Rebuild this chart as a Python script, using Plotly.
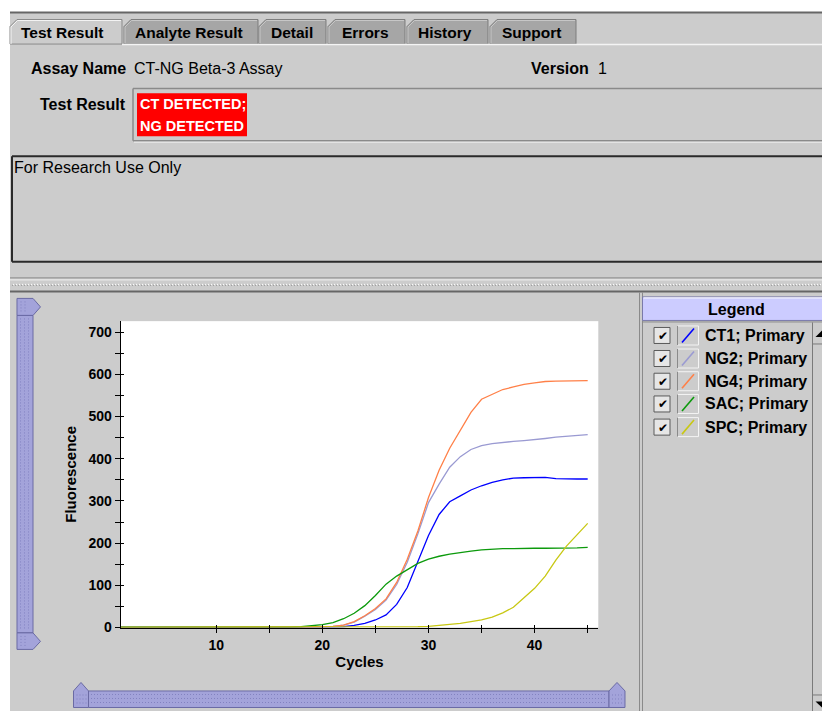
import plotly.graph_objects as go

# ---------------- data ----------------
cycles = list(range(1, 46))

series_names = ["CT1; Primary", "NG2; Primary", "NG4; Primary", "SAC; Primary", "SPC; Primary"]
series_colors = ["#0000ff", "#9a9ad2", "#ff8048", "#0c9a0c", "#c8c814"]

ct1 = [1, 1, 0, 0, 1, 0, 0, 0, 1, 0, 1, 0, 0, 0, 1, 0, 0, 1, 0, 1, 1,
       2, 5, 10, 18, 30, 55, 95, 155, 218, 268, 298, 312, 326, 336, 344,
       350, 354, 355, 356, 356, 353, 352, 352, 352]
ng2 = [0, 1, 0, 1, 0, 0, 1, 0, 0, 1, 0, 0, 1, 0, 0, 1, 0, 1, 1, 2,
       3, 6, 13, 27, 43, 65, 102, 155, 222, 296, 340, 380, 405, 422, 431,
       436, 439, 441, 443, 445, 448, 451, 453, 455, 457]
ng4 = [0, 0, 1, 0, 0, 1, 0, 0, 1, 0, 0, 1, 0, 0, 1, 0, 1, 1, 2, 2,
       3, 6, 14, 28, 45, 68, 107, 162, 229, 308, 373, 425, 469, 510, 541,
       553, 564, 570, 576, 580, 583, 584, 584, 585, 585]
sac = [1, 1, 1, 0, 1, 1, 1, 1, 0, 1, 1, 1, 1, 1, 1, 1, 1, 2, 4, 7,
       12, 21, 34, 52, 76, 103, 122, 137, 152, 162, 169, 174, 178, 181, 184,
       186, 187, 187, 188, 188, 188, 188, 188, 189, 190]
spc = [1, 1, 1, 1, 1, 1, 1, 1, 1, 1, 1, 1, 1, 1, 1, 1, 1, 1, 1, 1,
       1, 1, 1, 1, 1, 1, 1, 1, 2, 3, 5, 7, 10, 14, 18,
       25, 35, 48, 70, 93, 122, 160, 193, 220, 247]
series_values = [ct1, ng2, ng4, sac, spc]

x_major = [10, 20, 30, 40]
x_ticks = [10, 15, 20, 25, 30, 35, 40, 45]
y_ticks = [0, 50, 100, 150, 200, 250, 300, 350, 400, 450, 500, 550, 600, 650, 700]

tab_labels = ["Test Result", "Analyte Result", "Detail", "Errors", "History", "Support"]
assay_name = "CT-NG Beta-3 Assay"
assay_version = "1"
result_lines = ["CT DETECTED;", "NG DETECTED"]
notes_text = "For Research Use Only"

# ---------------- page helpers (design pixels -> paper) ----------------
W, H = 822, 711          # design grid
FIG_W, FIG_H = 822, 720  # figure size in the page
FONT = "Liberation Sans, Arial, sans-serif"
BG = "#cccccc"


def px(x):
    return x / W


def py(y):
    return 1 - y / H


shapes = []
annotations = []


def rect(x0, y0, x1, y1, fill=None, line=None, lw=1):
    shapes.append(dict(type="rect", xref="paper", yref="paper",
                       x0=px(x0), x1=px(x1), y0=py(y1), y1=py(y0),
                       fillcolor=fill or "rgba(0,0,0,0)",
                       line=dict(color=line or "rgba(0,0,0,0)", width=lw if line else 0)))


def seg(x0, y0, x1, y1, color, lw=1, dash="solid"):
    shapes.append(dict(type="line", xref="paper", yref="paper",
                       x0=px(x0), x1=px(x1), y0=py(y0), y1=py(y1),
                       line=dict(color=color, width=lw, dash=dash)))


def open_box(x0, y0, y1, color, lw=1):
    """Top, left and bottom edges of a box that runs off the right edge."""
    seg(x0, y0, W, y0, color, lw)
    seg(x0, y0, x0, y1, color, lw)
    seg(x0, y1, W, y1, color, lw)


def poly(points, fill=None, line=None, lw=1, closed=True):
    d = "M " + " L ".join(f"{px(x):.5f},{py(y):.5f}" for x, y in points)
    if closed:
        d += " Z"
    shapes.append(dict(type="path", xref="paper", yref="paper", path=d,
                       fillcolor=fill or "rgba(0,0,0,0)",
                       line=dict(color=line or "rgba(0,0,0,0)", width=lw if line else 0)))


def text(x, y, s, size=16, bold=False, color="black", anchor="left", family=FONT):
    annotations.append(dict(xref="paper", yref="paper", x=px(x), y=py(y), text=s,
                            showarrow=False, xanchor=anchor, yanchor="middle",
                            borderpad=0,
                            font=dict(family=family, size=size, color=color,
                                      weight="bold" if bold else "normal")))


# ---------------- window frame ----------------
rect(0, 0, 10, H, fill="#ffffff")
rect(0, 0, W, 12, fill="#ffffff")
seg(10, 12.5, W, 12.5, "#666666", 2)

# tabs: (left, right, label centre)
tab_spans = [(10, 122, 62), (124, 258, 189), (259, 326, 291.5),
             (328, 405, 365), (407, 488, 445), (490, 576, 531)]
for i, (lab, (a, b, c)) in enumerate(zip(tab_labels, tab_spans)):
    pts = [(a, 44), (a, 26.5), (a + 7, 19.5), (b, 19.5), (b, 44)]
    if i == 0:
        poly(pts, fill=BG, line="#8a8a8a", lw=1)
        poly([(a + 1, 44), (a + 1, 27), (a + 7.5, 20.5), (b - 1, 20.5)],
             line="#f4f4f4", lw=1, closed=False)
    else:
        poly(pts, fill="#a6a6a6", line="#7c7c7c", lw=1)
        poly([(a + 1, 43), (a + 1, 27), (a + 7.5, 20.5), (b - 1, 20.5)],
             line="#c8c8c8", lw=1, closed=False)
    text(c, 32, lab, size=15.5, bold=True, anchor="center")
seg(122, 44.5, W, 44.5, "#f4f4f4", 1.5)

# assay info
text(127, 68, "Assay Name", bold=True, anchor="right")
text(133, 68, assay_name)
text(530, 68, "Version", bold=True)
text(597, 68, assay_version)

# result box
text(127, 104, "Test Result", bold=True, anchor="right")
open_box(133, 88.5, 140.5, "#8a8a8a", 1.5)
seg(134, 142, W, 142, "#eeeeee", 1)
rect(137, 93, 247, 136, fill="#ff0000")
text(139, 104, result_lines[0], size=14.5, bold=True, color="#ffffff")
text(139, 126, result_lines[1], size=14.5, bold=True, color="#ffffff")

# notes box
open_box(12, 156, 261.5, "#2a2a2a", 2)
text(13, 167, notes_text, size=16)

# splitter
seg(10, 277.5, W, 277.5, "#8a8a8a", 1)
seg(10, 279.5, W, 279.5, "#f0f0f0", 1)
seg(12, 285, W, 285, "#9a9a9a", 1, dash="1px,2px")
seg(13, 284, W, 284, "#ffffff", 1, dash="1px,2px")
seg(10, 291, W, 291, "#666666", 2)

# ---------------- range sliders ----------------
SL_FILL = "#a3a3da"
SL_EDGE = "#6a6aa4"
SL_DOT = "#8282c0"

# vertical slider (left)
poly([(17, 298), (33, 298), (40.5, 306.5), (33, 315), (17, 315)], fill=SL_FILL, line=SL_EDGE)
rect(17, 315, 33, 632, fill=SL_FILL, line=SL_EDGE)
poly([(17, 632), (33, 632), (40.5, 640.5), (33, 648.5), (17, 648.5)], fill=SL_FILL, line=SL_EDGE)
for xx in (20.5, 24.5, 28.5):
    seg(xx, 318, xx, 629, SL_DOT, 1, dash="1px,2px")
for xx in (21, 25):
    seg(xx, 301, xx, 312, SL_DOT, 1, dash="1px,2px")
    seg(xx, 635, xx, 646, SL_DOT, 1, dash="1px,2px")

# horizontal slider (bottom)
poly([(73.5, 706.5), (73.5, 690), (81, 681.5), (88.5, 690), (88.5, 706.5)], fill=SL_FILL, line=SL_EDGE)
rect(88.5, 690, 609, 706.5, fill=SL_FILL, line=SL_EDGE)
poly([(609, 706.5), (609, 690), (617, 681.5), (625, 690), (625, 706.5)], fill=SL_FILL, line=SL_EDGE)
for yy in (693.5, 697.5, 701.5):
    seg(91, yy, 606, yy, SL_DOT, 1, dash="1px,2px")
for yy in (694, 698, 702):
    seg(76.5, yy, 86.5, yy, SL_DOT, 1, dash="1px,2px")
    seg(612, yy, 622, yy, SL_DOT, 1, dash="1px,2px")

# ---------------- legend panel ----------------
seg(639.5, 292, 639.5, H, "#8a8a8a", 1)
seg(642.5, 292, 642.5, H, "#8a8a8a", 1)
rect(642.5, 296.5, W, 320, fill="#ccccff")
open_box(642.5, 296.5, 320, "#7a7aaa", 1)
seg(643.5, 297.5, W, 297.5, "#ffffff", 1)
text(736, 309, "Legend", bold=True, anchor="center")
seg(642.5, 321.5, W, 321.5, "#8a8a8a", 1)

# scrollbar (cut by the window edge)
seg(812.5, 322, 812.5, H, "#7a7a7a", 1)
seg(813, 343.5, W, 343.5, "#7a7a7a", 1)
poly([(815.5, 336.5), (822, 336.5), (822, 330)], fill="#000000")
seg(813, 694, W, 694, "#7a7a7a", 1)
poly([(815.5, 700.5), (822, 700.5), (822, 706.5)], fill="#000000")

row_y = [335, 358, 380.7, 403.4, 426.5]
for name, col, cy in zip(series_names, series_colors, row_y):
    # check box
    rect(654, cy - 8, 670, cy + 8, fill="#e6e6e6", line="#5a5a5a", lw=1)
    text(662.5, cy + 0.5, "✔", size=12, anchor="center", family="DejaVu Sans")
    # swatch
    rect(677.5, cy - 9.5, 698.5, cy + 9.5, fill=BG, line="#f4f4f4", lw=1)
    seg(677.5, cy - 9.5, 677.5, cy + 9.5, "#8a8a8a", 1)
    seg(682, cy + 7, 694, cy - 7, col, 1.6)
    text(704, cy, name, bold=True)

# ---------------- chart ----------------
fig = go.Figure()
for name, col, vals in zip(series_names, series_colors, series_values):
    fig.add_trace(go.Scatter(x=cycles, y=vals, name=name, mode="lines",
                             line=dict(color=col, width=1.3), showlegend=False,
                             hoverinfo="skip"))
# carrier for the inward half of the crossing tick marks
fig.add_trace(go.Scatter(x=[None], y=[None], xaxis="x2", yaxis="y2",
                         showlegend=False, hoverinfo="skip"))

X_DOM = [px(120.7), px(598.3)]
Y_DOM = [py(626.7), py(320.7)]
X_RANGE = [1, 46]
Y_RANGE = [0, 726]
tick_font = dict(family=FONT, size=14, color="black", weight="bold")

fig.update_layout(
    width=FIG_W, height=FIG_H, autosize=False,
    margin=dict(l=0, r=0, t=0, b=0, pad=0),
    paper_bgcolor=BG, plot_bgcolor="#ffffff",
    showlegend=False,
    shapes=shapes, annotations=annotations,
    xaxis=dict(domain=X_DOM, range=X_RANGE, anchor="y",
               showline=True, linecolor="black", linewidth=1.3,
               ticks="outside", ticklen=4, tickwidth=1.3, tickcolor="black",
               tickvals=x_ticks,
               ticktext=[str(v) if v in x_major else "" for v in x_ticks],
               tickfont=tick_font, showgrid=False, zeroline=False,
               title=dict(text="Cycles", standoff=4,
                          font=dict(family=FONT, size=15, color="black", weight="bold"))),
    yaxis=dict(domain=Y_DOM, range=Y_RANGE, anchor="x",
               showline=True, linecolor="black", linewidth=1.3,
               ticks="outside", ticklen=5, tickwidth=1.3, tickcolor="black",
               tickvals=y_ticks,
               ticktext=[str(v) if v % 100 == 0 else "" for v in y_ticks],
               tickfont=tick_font, showgrid=False, zeroline=False,
               title=dict(text="Fluorescence", standoff=8,
                          font=dict(family=FONT, size=15, color="black", weight="bold"))),
    xaxis2=dict(domain=X_DOM, range=X_RANGE, overlaying="x", anchor="y2",
                ticks="inside", ticklen=3, tickwidth=1.3, tickcolor="black",
                tickvals=x_ticks, showticklabels=False, showline=False,
                showgrid=False, zeroline=False),
    yaxis2=dict(domain=Y_DOM, range=Y_RANGE, overlaying="y", anchor="x2",
                ticks="inside", ticklen=3, tickwidth=1.3, tickcolor="black",
                tickvals=y_ticks, showticklabels=False, showline=False,
                showgrid=False, zeroline=False),
)

# page styling: no body margin around the figure
page_css = ("var s=document.createElement('style');"
            "s.textContent='html,body{margin:0;padding:0;overflow:hidden;}';"
            "document.head.appendChild(s);")

fig.write_html("out.html", config={"displayModeBar": False}, post_script=page_css)
